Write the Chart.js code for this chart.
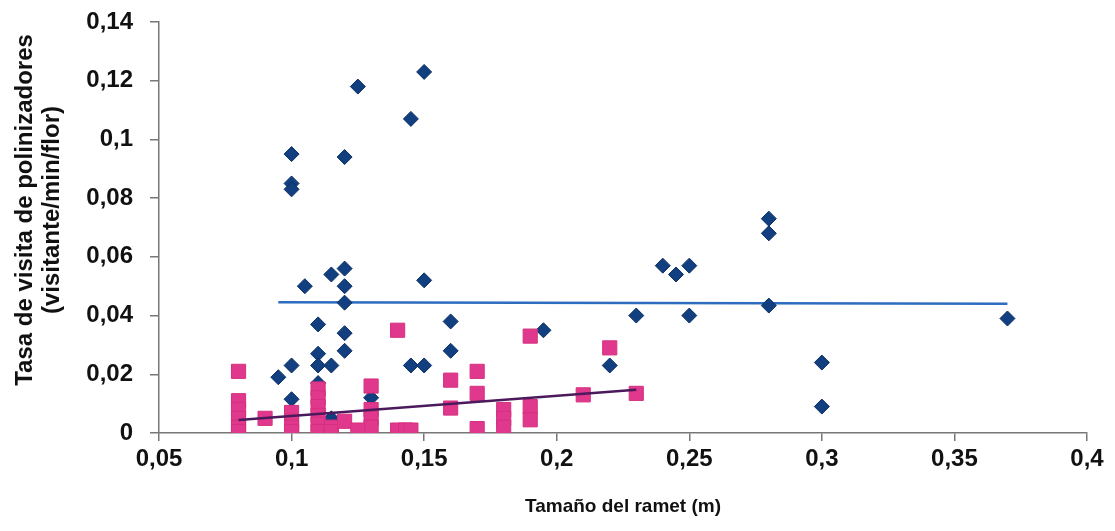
<!DOCTYPE html>
<html>
<head>
<meta charset="utf-8">
<script src="https://cdn.jsdelivr.net/npm/chart.js@4"></script>
<style>
  html, body { margin: 0; padding: 0; background: #fff; }
  #wrap { width: 1115px; height: 531px; }
</style>
</head>
<body>
<div id="wrap"><canvas id="rametChart" width="1115" height="531"></canvas></div>
<script>
// ramet size (m) and visit rate (visitante/min/flor), first population
const sizeA = [0.1, 0.1, 0.1, 0.125, 0.12, 0.145, 0.15, 0.105, 0.115, 0.12, 0.12, 0.12, 0.15,
  0.11, 0.12, 0.12, 0.11, 0.11, 0.115, 0.1, 0.095, 0.1, 0.11, 0.115, 0.13, 0.145, 0.15,
  0.16, 0.16, 0.195, 0.22, 0.23, 0.24, 0.245, 0.25, 0.25, 0.28, 0.28, 0.28, 0.3, 0.3, 0.37];
const rateA = [0.095, 0.085, 0.083, 0.118, 0.094, 0.107, 0.123, 0.050, 0.054, 0.056, 0.050, 0.0444, 0.052,
  0.037, 0.034, 0.028, 0.027, 0.023, 0.023, 0.023, 0.019, 0.0115, 0.017, 0.005, 0.012, 0.023, 0.023,
  0.038, 0.028, 0.035, 0.023, 0.040, 0.057, 0.054, 0.057, 0.040, 0.073, 0.068, 0.0434, 0.024, 0.009, 0.039];

// second population
const sizeB = [0.08, 0.08, 0.08, 0.08, 0.08, 0.08, 0.09,
  0.1, 0.1, 0.1, 0.1,
  0.11, 0.11, 0.11, 0.11, 0.11, 0.11, 0.115, 0.115, 0.12,
  0.13, 0.13, 0.13, 0.13, 0.125,
  0.14, 0.14, 0.143, 0.145,
  0.16, 0.16, 0.17, 0.17, 0.17, 0.18, 0.18, 0.18,
  0.19, 0.19, 0.19, 0.21, 0.22, 0.23];
const rateB = [0.021, 0.011, 0.008, 0.005, 0.002, 0.0005, 0.005,
  0.007, 0.004, 0.002, 0.0005,
  0.015, 0.012, 0.009, 0.006, 0.003, 0.0005, 0.002, 0.0005, 0.004,
  0.016, 0.008, 0.005, 0.002, 0.001,
  0.035, 0.001, 0.001, 0.001,
  0.018, 0.0085, 0.021, 0.0135, 0.0015, 0.008, 0.005, 0.002,
  0.033, 0.009, 0.0045, 0.013, 0.029, 0.0135];

// linear trend end points
const trendA = { x: [0.095, 0.37], y: [0.0445, 0.0440] };
const trendB = { x: [0.08, 0.23], y: [0.0044, 0.0147] };

const xTicks = [0.05, 0.1, 0.15, 0.2, 0.25, 0.3, 0.35, 0.4];
const yTicks = [0, 0.02, 0.04, 0.06, 0.08, 0.1, 0.12, 0.14];
const yTitle = ['Tasa de visita de polinizadores', '(visitante/min/flor)'];

function pts(xs, ys) {
  return xs.map((x, i) => ({ x: x, y: ys[i] }));
}
function fmt(v) {
  return String(Number(v.toFixed(2))).replace('.', ',');
}

const family = 'Liberation Sans, Arial, sans-serif';
const tickFont = { family: family, size: 24, weight: 'bold' };

// two-line y title, drawn a bit above the axis middle
const yTitlePlugin = {
  id: 'yTitle',
  afterDraw(c) {
    const g = c.ctx;
    g.save();
    g.fillStyle = '#111';
    g.font = 'bold 24px ' + family;
    g.textAlign = 'center';
    g.textBaseline = 'middle';
    const cols = [25, 52];
    yTitle.forEach((t, i) => {
      g.save();
      g.translate(cols[i], 210);
      g.rotate(-Math.PI / 2);
      g.fillText(t, 0, 0);
      g.restore();
    });
    g.restore();
  }
};

const ctx = document.getElementById('rametChart').getContext('2d');
const chart = new Chart(ctx, {
  type: 'scatter',
  data: {
    datasets: [
      {
        label: 'Tendencia B',
        data: pts(trendB.x, trendB.y),
        showLine: true,
        borderColor: '#4a1a5c',
        borderWidth: 2.5,
        pointRadius: 0,
        order: 0
      },
      {
        label: 'B',
        data: pts(sizeB, rateB),
        pointStyle: 'rect',
        pointRadius: 10,
        backgroundColor: '#e0388c',
        borderColor: '#d6307f',
        borderWidth: 1,
        order: 1
      },
      {
        label: 'A',
        data: pts(sizeA, rateA),
        pointStyle: 'rectRot',
        pointRadius: 7.5,
        backgroundColor: '#123f80',
        borderColor: '#0b2f63',
        borderWidth: 1,
        order: 2
      },
      {
        label: 'Tendencia A',
        data: pts(trendA.x, trendA.y),
        showLine: true,
        borderColor: '#2e6cbf',
        borderWidth: 2.5,
        pointRadius: 0,
        order: 3
      }
    ]
  },
  options: {
    responsive: false,
    animation: false,
    layout: { autoPadding: false, padding: { top: 22, right: 28, left: 0, bottom: 0 } },
    plugins: {
      legend: { display: false },
      tooltip: { enabled: false }
    },
    scales: {
      x: {
        type: 'linear',
        min: 0.05,
        max: 0.4,
        afterBuildTicks: (s) => { s.ticks = xTicks.map(v => ({ value: v })); },
        afterFit: (s) => { s.height = 98; },
        grid: { drawOnChartArea: false, drawTicks: true, tickLength: 8, color: '#777', lineWidth: 1.5 },
        border: { display: true, color: '#777', width: 1.5 },
        ticks: { color: '#111', font: tickFont, padding: 4, maxRotation: 0, callback: (v) => fmt(v) },
        title: {
          display: true,
          text: 'Tamaño del ramet (m)',
          color: '#111',
          font: { family: family, size: 19, weight: 'bold' },
          padding: { top: 0, bottom: 13 }
        }
      },
      y: {
        type: 'linear',
        min: 0,
        max: 0.14,
        afterBuildTicks: (s) => { s.ticks = yTicks.map(v => ({ value: v })); },
        afterFit: (s) => { s.width = 159; s.paddingTop = 0; s.paddingBottom = 0; },
        grid: { drawOnChartArea: false, drawTicks: true, tickLength: 9, color: '#777', lineWidth: 1.5 },
        border: { display: true, color: '#777', width: 1.5 },
        ticks: { color: '#111', font: tickFont, padding: 17, callback: (v) => fmt(v) }
      }
    }
  },
  plugins: [yTitlePlugin]
});
</script>
</body>
</html>
